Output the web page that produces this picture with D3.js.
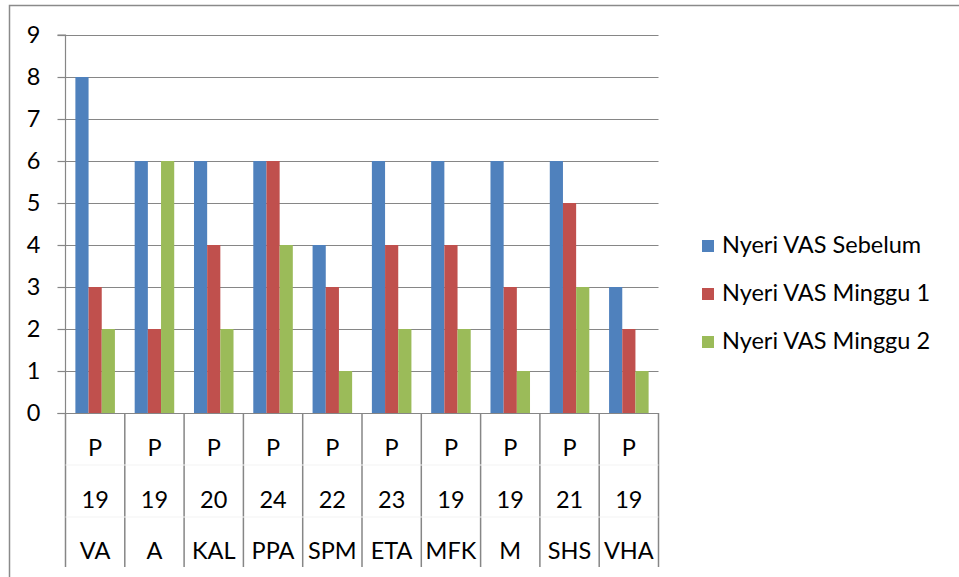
<!DOCTYPE html>
<html><head><meta charset="utf-8">
<script src="https://cdn.jsdelivr.net/npm/d3@7"></script>
<style>body{margin:0;background:#fff}svg{display:block}text{font-family:Lato,"Open Sans",sans-serif;fill:#000}</style>
</head><body>
<svg id="c" width="959" height="577"></svg>
<script>
const row1 = ["P","P","P","P","P","P","P","P","P","P"];
const row2 = ["19","19","20","24","22","23","19","19","21","19"];
const row3 = ["VA","A","KAL","PPA","SPM","ETA","MFK","M","SHS","VHA"];
const seriesNames = ["Nyeri VAS Sebelum","Nyeri VAS Minggu 1","Nyeri VAS Minggu 2"];
const sebelum = [8,6,6,6,4,6,6,6,6,3];
const minggu1 = [3,2,4,6,3,4,4,3,5,2];
const minggu2 = [2,6,2,4,1,2,2,1,3,1];
const yTicks = [0,1,2,3,4,5,6,7,8,9];
const colors = ["#4F81BD","#C0504D","#9BBB59"];
const series = [sebelum, minggu1, minggu2];
const FS = 23.5;

const svg = d3.select("#c");
const L = 65.5, R = 658.5, T = 35, B = 413;
const x = d3.scaleBand().domain(d3.range(row3.length)).range([L, R]).paddingInner(0).paddingOuter(0);
const y = d3.scaleLinear().domain([0, 9]).range([B, T]);
const step = x.step();
const bw = step / 4.5;
const xs = d3.scaleBand().domain([0,1,2]).range([0.75*bw, 0.75*bw + 3*bw]);

svg.append("path").attr("d", "M9.5,577 V5.5 H959").attr("fill","none").attr("stroke","#8a8a8a").attr("stroke-width",1.5);

svg.append("g").selectAll("line").data(yTicks.filter(d=>d>0)).join("line")
  .attr("x1", L).attr("x2", R).attr("y1", d=>Math.round(y(d))+0.5).attr("y2", d=>Math.round(y(d))+0.5)
  .attr("stroke","#868686").attr("stroke-width",1.2);

const ya = svg.append("g").attr("transform", `translate(${L},0)`)
  .call(d3.axisLeft(y).tickValues(yTicks).tickSize(8).tickPadding(17).tickFormat(d3.format("d")));
ya.select(".domain").attr("stroke","#868686").attr("stroke-width",1.2).attr("d", `M-8,${T}H0V${B}`);
ya.selectAll(".tick line").attr("stroke","#868686").attr("stroke-width",1.2);
ya.selectAll(".tick text").attr("font-size", FS).attr("font-family","Lato,sans-serif").attr("fill","#000");

const g = svg.append("g");
series.forEach((s, si) => {
  g.selectAll(null).data(s).join("rect")
    .attr("x", (d,i)=> x(i) + xs(si))
    .attr("width", xs.bandwidth())
    .attr("y", d=> y(d))
    .attr("height", d=> y(0)-y(d))
    .attr("fill", colors[si]);
});

svg.append("line").attr("x1", L-8).attr("x2", R).attr("y1", B+0.5).attr("y2", B+0.5).attr("stroke","#868686").attr("stroke-width",1.2);

const seps = d3.range(row3.length+1);
svg.append("g").selectAll("line").data(seps).join("line")
  .attr("x1", i=> L + i*step).attr("x2", i=> L + i*step)
  .attr("y1", B).attr("y2", 567)
  .attr("stroke","#868686").attr("stroke-width",1.5);

[465, 517].forEach(yy=>{
  svg.append("line").attr("x1",L).attr("x2",R).attr("y1",yy).attr("y2",yy).attr("stroke","#f3f3f3").attr("stroke-width",1);
});

[[row1,456],[row2,508],[row3,559]].forEach(([arr,by])=>{
  svg.append("g").selectAll("text").data(arr).join("text")
    .attr("x",(d,i)=> x(i)+step/2).attr("y",by)
    .attr("text-anchor","middle").attr("font-size",FS).text(d=>d);
});

const lg = svg.append("g");
seriesNames.forEach((n,i)=>{
  const by = 253 + i*48;
  lg.append("rect").attr("x",702).attr("y",by-13).attr("width",12).attr("height",12).attr("fill",colors[i]);
  lg.append("text").attr("x",722).attr("y",by).attr("font-size",FS).text(n);
});
</script>
</body></html>
